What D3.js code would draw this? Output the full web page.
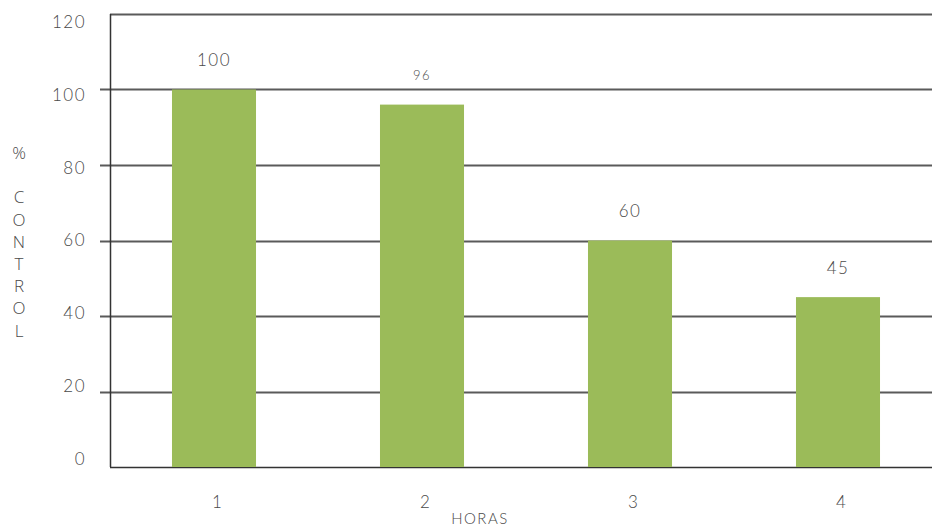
<!DOCTYPE html>
<html>
<head>
<meta charset="utf-8">
<script src="https://cdn.jsdelivr.net/npm/d3@7"></script>
<style>
  body { margin: 0; background: #fff; }
  svg text { font-family: Lato, "Open Sans", sans-serif; font-weight: 300; }
</style>
</head>
<body>
<svg id="chart" width="932" height="526"></svg>
<script>
// Hours and % control per hour
const horas = ["1", "2", "3", "4"];
const control = [100, 96, 60, 45];
const labelSizes = [17, 13, 17, 17];
const yTicks = [0, 20, 40, 60, 80, 100, 120];
const yTitle = ["%", "", "C", "O", "N", "T", "R", "O", "L"];

const textColor = "#4a4a4a";
const svg = d3.select("#chart");
const plot = { left: 110, right: 942, top: 14, bottom: 467 };

const x = d3.scaleBand().domain(horas).range([plot.left, plot.right])
  .paddingInner(0.596).paddingOuter(0.298);
const y = d3.scaleLinear().domain([0, 120]).range([plot.bottom, plot.top]);
// tick labels sit on a slightly tighter span than the gridlines
const yLab = d3.scaleLinear().domain([0, 120]).range([459, 22]);

// horizontal gridlines with short ticks on the left
const grid = svg.append("g");
yTicks.forEach(t => {
  const yy = Math.round(y(t)) + 0.5;
  const x0 = (t === 0 || t === 120) ? plot.left : plot.left - 10;
  grid.append("line")
    .attr("x1", x0).attr("x2", 932)
    .attr("y1", yy).attr("y2", yy)
    .attr("stroke", t === 0 ? "#333" : "#5a5a5a")
    .attr("stroke-width", t === 0 ? 1.5 : 2);
});
// vertical axis line
svg.append("line")
  .attr("x1", plot.left + 0.5).attr("x2", plot.left + 0.5)
  .attr("y1", y(120)).attr("y2", y(0))
  .attr("stroke", "#333").attr("stroke-width", 1.5);

// y tick labels
svg.append("g").selectAll("text").data(yTicks).join("text")
  .attr("x", 86).attr("y", d => yLab(d))
  .attr("dy", "0.35em")
  .attr("text-anchor", "end")
  .attr("fill", textColor)
  .attr("font-size", 17).attr("letter-spacing", 1.5)
  .text(d => d);

// bars
svg.append("g").selectAll("rect").data(control).join("rect")
  .attr("x", (d, i) => x(horas[i]))
  .attr("width", x.bandwidth())
  .attr("y", d => y(d))
  .attr("height", d => y(0) - y(d))
  .attr("fill", "#9bbb59");

// value labels
svg.append("g").selectAll("text").data(control).join("text")
  .attr("x", (d, i) => x(horas[i]) + x.bandwidth() / 2)
  .attr("y", d => y(d) - 29)
  .attr("dy", "0.35em")
  .attr("text-anchor", "middle")
  .attr("fill", textColor)
  .attr("font-size", (d, i) => labelSizes[i])
  .attr("letter-spacing", 1.5)
  .text(d => d);

// category labels
svg.append("g").selectAll("text").data(horas).join("text")
  .attr("x", d => x(d) + x.bandwidth() / 2 + 3)
  .attr("y", 502)
  .attr("dy", "0.35em")
  .attr("text-anchor", "middle")
  .attr("fill", textColor)
  .attr("font-size", 17)
  .text(d => d);

// axis titles
svg.append("text")
  .attr("x", 480).attr("y", 519)
  .attr("dy", "0.35em")
  .attr("text-anchor", "middle")
  .attr("fill", textColor)
  .attr("font-size", 15).attr("letter-spacing", 1.5)
  .text("HORAS");

const yt = svg.append("text")
  .attr("font-size", 17)
  .attr("text-anchor", "middle")
  .attr("fill", textColor)
  .style("font-family", "'Open Sans', sans-serif")
  .style("font-weight", 300);
yTitle.forEach((ch, i) => {
  yt.append("tspan").attr("x", 19).attr("y", 159 + i * 22.2)
    .attr("fill", textColor).text(ch);
});
</script>
</body>
</html>
